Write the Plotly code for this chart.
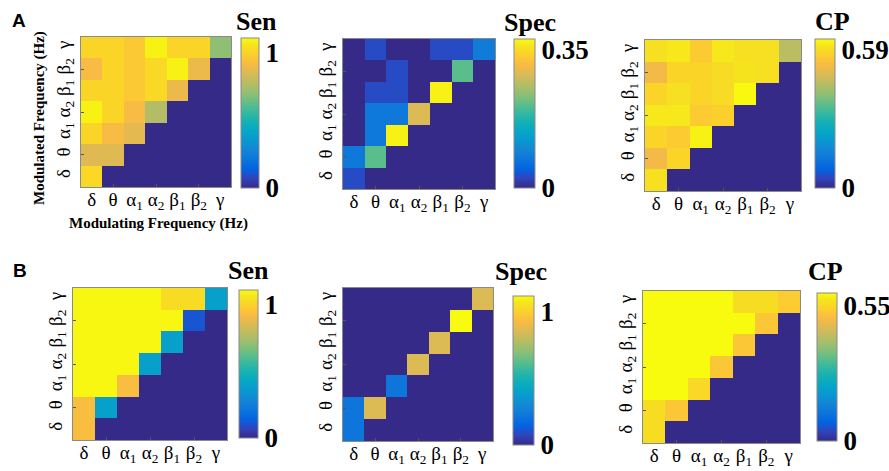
import plotly.graph_objects as go

W, H = 889, 471

bands = ["δ", "θ", "α<sub>1</sub>", "α<sub>2</sub>", "β<sub>1</sub>", "β<sub>2</sub>", "γ"]

# rows listed from δ (bottom) to γ (top); columns δ .. γ
sen_a = [
    [1.02, 0, 0, 0, 0, 0, 0],
    [0.86, 0.86, 0, 0, 0, 0, 0],
    [1.01, 0.92, 0.87, 0, 0, 0, 0],
    [1.09, 1.01, 0.92, 0.77, 0, 0, 0],
    [1.01, 1.01, 0.97, 1.02, 0.89, 0, 0],
    [0.92, 1.01, 0.97, 1.02, 1.09, 0.89, 0],
    [1.01, 1.01, 0.97, 1.09, 1.01, 1.01, 0.70],
]
spec_a = [
    [0.03, 0, 0, 0, 0, 0, 0],
    [0.076, 0.21, 0, 0, 0, 0, 0],
    [0, 0.076, 0.37, 0, 0, 0, 0],
    [0, 0.076, 0.076, 0.29, 0, 0, 0],
    [0, 0.03, 0.03, 0, 0.37, 0, 0],
    [0, 0, 0.03, 0, 0, 0.21, 0],
    [0, 0.03, 0, 0, 0.03, 0.03, 0.083],
]
cp_a = [
    [0.60, 0, 0, 0, 0, 0, 0],
    [0.52, 0.58, 0, 0, 0, 0, 0],
    [0.58, 0.56, 0.625, 0, 0, 0, 0],
    [0.612, 0.612, 0.56, 0.57, 0, 0, 0],
    [0.58, 0.597, 0.58, 0.59, 0.635, 0, 0],
    [0.52, 0.58, 0.58, 0.59, 0.607, 0.597, 0],
    [0.597, 0.612, 0.56, 0.612, 0.597, 0.597, 0.45],
]
sen_b = [
    [0.93, 0, 0, 0, 0, 0, 0],
    [0.93, 0.39, 0, 0, 0, 0, 0],
    [1.1, 1.1, 0.93, 0, 0, 0, 0],
    [1.1, 1.1, 1.1, 0.39, 0, 0, 0],
    [1.1, 1.1, 1.1, 1.1, 0.39, 0, 0],
    [1.1, 1.1, 1.1, 1.1, 1.1, 0.11, 0],
    [1.1, 1.1, 1.1, 1.1, 1.03, 1.03, 0.39],
]
spec_b = [
    [0.22, 0, 0, 0, 0, 0, 0],
    [0.22, 0.86, 0, 0, 0, 0, 0],
    [0, 0, 0.22, 0, 0, 0, 0],
    [0, 0, 0, 0.86, 0, 0, 0],
    [0, 0, 0, 0, 0.86, 0, 0],
    [0, 0, 0, 0, 0, 1.12, 0],
    [0, 0, 0, 0, 0, 0, 0.86],
]
cp_b = [
    [0.56, 0, 0, 0, 0, 0, 0],
    [0.56, 0.52, 0, 0, 0, 0, 0],
    [0.6, 0.6, 0.55, 0, 0, 0, 0],
    [0.6, 0.6, 0.6, 0.52, 0, 0, 0],
    [0.6, 0.6, 0.6, 0.6, 0.52, 0, 0],
    [0.6, 0.6, 0.6, 0.6, 0.6, 0.52, 0],
    [0.6, 0.6, 0.6, 0.6, 0.56, 0.56, 0.53],
]

titles = ["Sen", "Spec", "CP", "Sen", "Spec", "CP"]
cbar_max = [1.11, 0.378, 0.637, 1.11, 1.12, 0.60]
cbar_label_vals = [1, 0.35, 0.59, 1, 1, 0.55]
cbar_label_text = ["1", "0.35", "0.59", "1", "1", "0.55"]

parula = [
    [0.0, "rgb(53,42,135)"], [0.0635, "rgb(50,67,186)"], [0.127, "rgb(3,99,225)"],
    [0.1905, "rgb(13,117,220)"], [0.254, "rgb(20,133,212)"], [0.3175, "rgb(9,152,209)"],
    [0.381, "rgb(6,167,198)"], [0.4444, "rgb(21,177,180)"], [0.5079, "rgb(56,185,158)"],
    [0.5714, "rgb(101,190,134)"], [0.6349, "rgb(146,191,115)"], [0.6984, "rgb(183,189,100)"],
    [0.7619, "rgb(217,186,86)"], [0.8254, "rgb(248,186,68)"], [0.8889, "rgb(252,206,46)"],
    [0.9524, "rgb(245,228,29)"], [1.0, "rgb(249,251,14)"],
]

# layout boxes in pixels: heatmap (x0, x1, y0, y1), colorbar (x0, x1, y0, y1), title centre
heat_boxes = [(81, 231, 37, 187), (343, 495, 39, 189), (645, 801, 40, 191),
              (73, 227, 288, 440), (343, 493, 288, 441), (643, 800, 291, 443)]
cbar_boxes = [(241, 259, 38, 188), (514, 535, 39, 188), (815, 835, 39, 188),
              (239, 258, 290, 438), (513, 534, 296, 445), (817, 837, 293, 441)]
title_pos = [(256, 22), (530, 23), (832, 22), (248, 270), (521, 271), (825, 271)]

mats = [sen_a, spec_a, cp_a, sen_b, spec_b, cp_b]

SERIF = "Liberation Serif"
fig = go.Figure()
layout = dict(width=W, height=H, margin=dict(l=0, r=0, t=0, b=0, autoexpand=False),
              paper_bgcolor="white", plot_bgcolor="white", showlegend=False)
annotations = []

for i, z in enumerate(mats):
    k = i + 1
    xa = "x" if k == 1 else f"x{k}"
    ya = "y" if k == 1 else f"y{k}"
    hx0, hx1, hy0, hy1 = heat_boxes[i]
    cx0, cx1, cy0, cy1 = cbar_boxes[i]
    fig.add_trace(go.Heatmap(
        z=z, x=list(range(7)), y=list(range(7)), xaxis=xa, yaxis=ya,
        colorscale=parula, zmin=0, zmax=cbar_max[i], zsmooth=False,
        colorbar=dict(
            x=cx0 / W, xanchor="left", y=1 - (cy0 + cy1) / 2 / H, yanchor="middle",
            len=cy1 - cy0, lenmode="pixels", thickness=cx1 - cx0, thicknessmode="pixels",
            xpad=0, ypad=0, outlinewidth=1, outlinecolor="#8a8a8a",
            tickvals=[0, cbar_label_vals[i]], ticktext=["0", cbar_label_text[i]],
            ticks="", tickfont=dict(family=SERIF, size=27, color="black", weight="bold"),
        ),
        hoverinfo="skip",
    ))
    axis_common = dict(range=[-0.5, 6.5], tickvals=list(range(7)), ticktext=bands,
                       showgrid=False, zeroline=False, showline=True, mirror=True,
                       linecolor="#8a8a8a", linewidth=1, ticks="",
                       minor=dict(ticks="inside", tick0=1, dtick=2, ticklen=3,
                                  tickcolor="#555555", showgrid=False),
                       tickfont=dict(family=SERIF, size=19, color="black"))
    xname = "xaxis" if k == 1 else f"xaxis{k}"
    yname = "yaxis" if k == 1 else f"yaxis{k}"
    layout[xname] = dict(axis_common, domain=[hx0 / W, hx1 / W], anchor=ya, ticklabelstandoff=-5)
    layout[yname] = dict(axis_common, domain=[1 - hy1 / H, 1 - hy0 / H], anchor=xa,
                         tickangle=-90, ticklabelstandoff=2)
    tx, ty = title_pos[i]
    annotations.append(dict(text=titles[i], x=tx / W, y=1 - ty / H, xref="paper", yref="paper",
                            xanchor="center", yanchor="middle", showarrow=False,
                            font=dict(family=SERIF, size=26, color="black", weight="bold")))

# axis titles on first panel
annotations.append(dict(text="Modulating Frequency (Hz)", x=158 / W, y=1 - 223 / H,
                        xref="paper", yref="paper", xanchor="center", yanchor="middle",
                        showarrow=False,
                        font=dict(family=SERIF, size=15, color="black", weight="bold")))
annotations.append(dict(text="Modulated Frequency (Hz)", x=40 / W, y=1 - 118 / H,
                        xref="paper", yref="paper", xanchor="center", yanchor="middle",
                        showarrow=False, textangle=-90,
                        font=dict(family=SERIF, size=15, color="black", weight="bold")))
# panel labels
for lab, (px, py) in zip(["A", "B"], [(19, 21), (20, 270)]):
    annotations.append(dict(text=lab, x=px / W, y=1 - py / H, xref="paper", yref="paper",
                            xanchor="center", yanchor="middle", showarrow=False,
                            font=dict(family="Liberation Sans", size=19, color="black",
                                      weight="bold")))

layout["annotations"] = annotations
fig.update_layout(**layout)
fig.write_html("out.html", config={"displayModeBar": False},
               post_script="document.body.style.margin='0';document.body.style.overflow='hidden';")
